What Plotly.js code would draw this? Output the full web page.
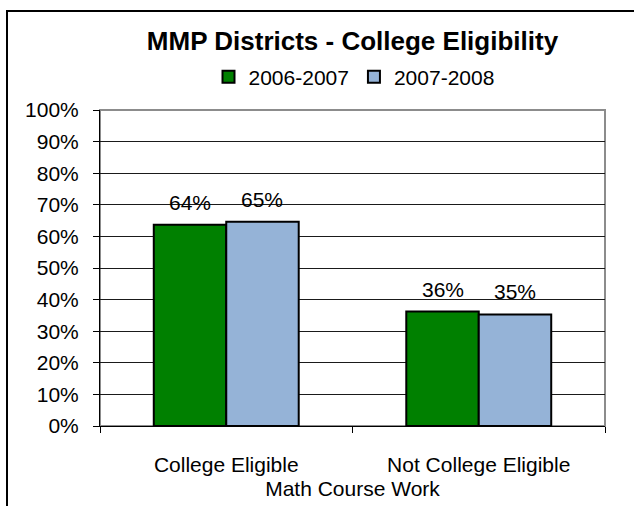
<!DOCTYPE html>
<html>
<head>
<meta charset="utf-8">
<script src="https://cdn.plot.ly/plotly-3.0.1.min.js"></script>
<style>
  html, body { margin: 0; padding: 0; background: #ffffff; }
  #chart { width: 634px; height: 506px; }
</style>
</head>
<body>
<div id="chart"></div>
<script>
const categories = ["College Eligible", "Not College Eligible"];
const series1Name = "2006-2007";
const series1Values = [0.637, 0.362];
const series2Name = "2007-2008";
const series2Values = [0.646, 0.353];
const yTickValues = [0, 0.1, 0.2, 0.3, 0.4, 0.5, 0.6, 0.7, 0.8, 0.9, 1.0];

const FONT = "Liberation Sans, Arial, sans-serif";
const W = 634, H = 506;
const M = { l: 100, r: 29, t: 110, b: 80 };
const pw = W - M.l - M.r, ph = H - M.t - M.b;
const px2x = p => (p - M.l) / pw;
const py2y = p => 1 - (p - M.t) / ph;
const BARGAP = 0.426;

const seriesList = [
  { name: series1Name, values: series1Values, color: "#008000" },
  { name: series2Name, values: series2Values, color: "#95B3D7" }
];

const traces = seriesList.map(s => ({
  type: "bar",
  name: s.name,
  x: categories,
  y: s.values,
  marker: { color: s.color, line: { color: "#000000", width: 2 } },
  hoverinfo: "skip"
}));

// Data labels placed over each bar via the library's data axes
const barHalf = pw / categories.length * (1 - BARGAP) / seriesList.length / 2;
const annotations = [];
seriesList.forEach((s, i) => {
  const off = (i - (seriesList.length - 1) / 2) * 2 * barHalf;
  s.values.forEach((v, j) => {
    annotations.push({
      xref: "x", yref: "y", x: categories[j], y: v,
      text: Math.round(v * 100) + "%",
      showarrow: false, xanchor: "center", yanchor: "bottom",
      xshift: off, yshift: 9,
      font: { family: FONT, size: 21, color: "#000000" }
    });
  });
});

const layout = {
  width: W, height: H,
  margin: M,
  paper_bgcolor: "#ffffff",
  plot_bgcolor: "#ffffff",
  font: { family: FONT, size: 21, color: "#000000" },
  barmode: "group",
  bargap: BARGAP,
  bargroupgap: 0,
  title: {
    text: "<b>MMP Districts - College Eligibility</b>",
    font: { family: FONT, size: 26, color: "#000000" },
    x: 0.5, xref: "paper", xanchor: "center",
    y: 1 - 41 / H, yanchor: "middle"
  },
  showlegend: true,
  legend: {
    orientation: "h",
    x: px2x(354), xanchor: "center",
    y: py2y(77), yanchor: "middle",
    font: { family: FONT, size: 21, color: "#000000" },
    itemwidth: 30,
    tracegroupgap: 0,
    bgcolor: "rgba(0,0,0,0)"
  },
  annotations: annotations,
  xaxis: {
    type: "category",
    showline: true, linecolor: "#000000", linewidth: 1,
    ticks: "outside", tickson: "boundaries", ticklen: 6, tickcolor: "#000000",
    ticklabelstandoff: 20,
    showgrid: false,
    tickfont: { family: FONT, size: 21, color: "#000000" },
    title: { text: "Math Course Work", font: { family: FONT, size: 21, color: "#000000" }, standoff: 6 },
    fixedrange: true
  },
  yaxis: {
    range: [0, 1],
    tickvals: yTickValues,
    tickformat: ".0%",
    showline: true, linecolor: "#000000", linewidth: 1,
    ticks: "outside", ticklen: 6, tickcolor: "#000000",
    ticklabelstandoff: 10,
    showgrid: true, gridcolor: "#1a1a1a", gridwidth: 1,
    zeroline: false,
    tickfont: { family: FONT, size: 21, color: "#000000" },
    fixedrange: true
  },
  shapes: [
    {
      type: "rect", xref: "paper", yref: "paper",
      x0: 0, x1: 1, y0: 0, y1: 1,
      line: { color: "#8c8c8c", width: 2 }, layer: "below"
    },
    {
      type: "rect", xref: "paper", yref: "paper",
      x0: px2x(7), x1: px2x(W + 20), y0: py2y(H + 20), y1: py2y(11),
      line: { color: "#000000", width: 2 }, fillcolor: "rgba(0,0,0,0)", layer: "above"
    }
  ]
};

Plotly.newPlot("chart", traces, layout, { displayModeBar: false, staticPlot: true });
</script>
</body>
</html>
